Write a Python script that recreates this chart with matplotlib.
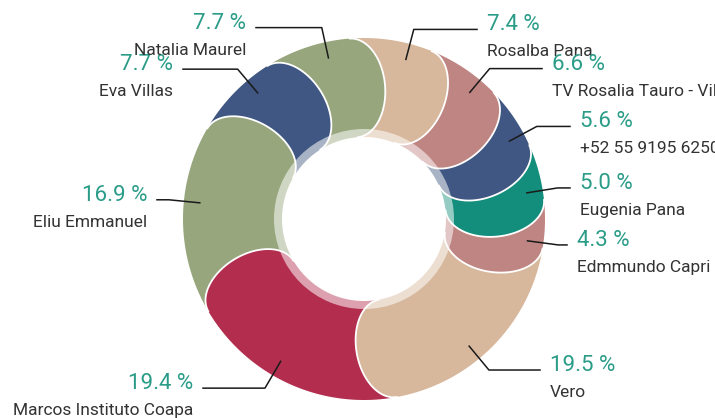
import numpy as np
import matplotlib.pyplot as plt
from matplotlib.patches import Polygon, Wedge

# slices, clockwise from the top
names = ["Rosalba Pana", "TV Rosalia Tauro - Villas", "+52 55 9195 6250",
         "Eugenia Pana", "Edmmundo Capri", "Vero", "Marcos Instituto Coapa",
         "Eliu Emmanuel", "Eva Villas", "Natalia Maurel"]
values = [7.4, 6.6, 5.6, 5.0, 4.3, 19.5, 19.4, 16.9, 7.7, 7.7]
colors = ["#D8B89D", "#BF8582", "#3F5782", "#148E7C", "#BF8582",
          "#D8B89D", "#B22D4E", "#97A67D", "#3F5782", "#97A67D"]

# where each leader line stops (pixels)
label_end_x = [477, 542, 570, 570, 567, 540, 203, 157, 183, 256]

plt.rcParams["font.family"] = ["Roboto", "DejaVu Sans"]

cx, cy = 364, 219
r_out, r_in = 181, 82
h = (r_out - r_in) / 2
rm = r_in + h
a = 0.64 * h
start0 = 94.6


def pt(r, th):
    t = np.radians(th)
    return np.array([cx + r * np.cos(t), cy - r * np.sin(t)])


def arc(r, t0, t1, n=80):
    t = np.radians(np.linspace(t0, t1, n))
    return np.column_stack([cx + r * np.cos(t), cy - r * np.sin(t)])


def cap(te, n=60):
    t = np.linspace(np.pi / 2, -np.pi / 2, n)
    th = np.radians(te)
    ur = np.array([np.cos(th), -np.sin(th)])
    uf = np.array([np.sin(th), np.cos(th)])
    c = pt(rm, te)
    return c + (h * np.sin(t))[:, None] * ur + (a * np.cos(t))[:, None] * uf


fig = plt.figure(figsize=(7.15, 4.18), dpi=100)
ax = fig.add_axes([0, 0, 1, 1])
ax.set_xlim(0, 715)
ax.set_ylim(418, 0)
ax.set_aspect("equal")
ax.axis("off")

total = sum(values)
spans = [v / total * 360 for v in values]
starts = [start0 - sum(spans[:i]) for i in range(len(values))]
ends = [s - sp for s, sp in zip(starts, spans)]

z = 1
# first slice body, its cap goes on top at the end
s, e = starts[0], ends[0]
poly = np.vstack([arc(r_out, s, e - 1), arc(r_in, e - 1, s)])
ax.add_patch(Polygon(poly, closed=True, fc=colors[0], lw=0, zorder=z))

for i in range(len(values) - 1, 0, -1):
    z += 1
    s, e = starts[i], ends[i]
    c = cap(e)
    poly = np.vstack([arc(r_out, s, e), c, arc(r_in, e, s)])
    ax.add_patch(Polygon(poly, closed=True, fc=colors[i], lw=0, zorder=z))
    ax.plot(c[:, 0], c[:, 1], color="white", lw=1.3, zorder=z + 0.5,
            solid_capstyle="round")

z += 1
e = ends[0]
c = cap(e)
poly = np.vstack([arc(r_out, e + 1, e), c, arc(r_in, e, e + 1)])
ax.add_patch(Polygon(poly, closed=True, fc=colors[0], lw=0, zorder=z))
ax.plot(c[:, 0], c[:, 1], color="white", lw=1.3, zorder=z + 0.5)

# pale inner rim
ax.add_patch(Wedge((cx, cy), r_in + 8, 0, 360, width=9, fc="white",
                   alpha=0.55, lw=0, zorder=z + 2))

# leader lines and labels
for i, v in enumerate(values):
    mid = starts[i] - spans[i] / 2 - 6
    p0 = pt(165, mid)
    p1 = pt(196, mid)
    xe = label_end_x[i]
    ax.plot([p0[0], p1[0], xe], [p0[1], p1[1], p1[1]], color="#1a1a1a",
            lw=1.1, zorder=z + 3)
    right = np.cos(np.radians(mid)) > 0
    tx = xe + 10 if right else xe - 10
    ha = "left" if right else "right"
    ax.text(tx, p1[1] + 1, f"{v:.1f} %", color="#2A9C88", fontsize=16,
            ha=ha, va="baseline", zorder=z + 4)
    ax.text(tx, p1[1] + 27, names[i], color="#333333", fontsize=12.5,
            ha=ha, va="baseline", zorder=z + 4)

fig.savefig("out.png", dpi=100)
